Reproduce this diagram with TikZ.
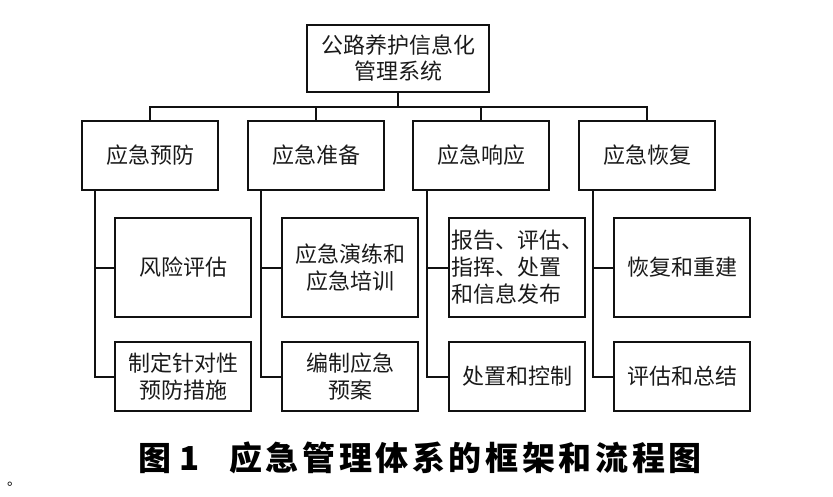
\documentclass[tikz,border=0pt]{standalone}
\usepackage{fontspec}
\usepackage{xcolor}
\usetikzlibrary{positioning}
\setmainfont{Noto Sans CJK SC}
\definecolor{boxstroke}{HTML}{111111}
\definecolor{txt}{HTML}{1A1A1A}

\begin{document}
\begin{tikzpicture}[
  x=1pt, y=1pt,
  font=\fontsize{22}{26}\selectfont,
  rootbox/.style={
    draw=boxstroke,
    line width=2pt,
    outer sep=0pt,
    minimum width=182pt,
    minimum height=67pt,
    align=center,
    text=txt
  },
  phasebox/.style={
    draw=boxstroke,
    line width=2pt,
    outer sep=0pt,
    minimum width=136pt,
    minimum height=69pt,
    align=center,
    text=txt
  },
  taskbox/.style={phasebox, minimum height=99pt, font=\fontsize{22}{27}\selectfont},
  subbox/.style={phasebox, font=\fontsize{22}{27}\selectfont},
  link/.style={draw=boxstroke, line width=2pt}
]
  \useasboundingbox (0,0) rectangle (833,-496);

  % Root box
  \node[rootbox] (root) at (398,-58.5) {公路养护信息化\\管理系统};

  % Four phases
  \node[phasebox] (prev) at (150,-155.5) {应急预防};
  \node[phasebox, right=30pt of prev] (prep) {应急准备};
  \node[phasebox, right=29pt of prep] (resp) {应急响应};
  \node[phasebox, right=30pt of resp] (reco) {应急恢复};

  % Bus from root to phases
  \draw[link] (root.south) -- ++(0,-15) coordinate (bus);
  \draw[link] (prev.north) |- (bus) -| (reco.north);
  \draw[link] (prep.north) -- (prep.north |- bus);
  \draw[link] (resp.north) -- (resp.north |- bus);

  % Tasks under each phase
  \node[taskbox, anchor=north west] (risk) at ([xshift=33pt,yshift=-28pt]prev.south west) {风险评估};
  \node[subbox, below=25pt of risk] (meas) {制定针对性\\预防措施};

  \node[taskbox, anchor=north west] (drill) at ([xshift=34pt,yshift=-28pt]prep.south west) {应急演练和\\应急培训};
  \node[subbox, below=25pt of drill] (plan) {编制应急\\预案};

  \node[taskbox, anchor=north west, align=left, inner sep=2pt] (rept) at ([xshift=36pt,yshift=-28pt]resp.south west) {报告、评估、\\指挥、处置\\和信息发布};
  \node[subbox, below=25pt of rept] (ctrl) {处置和控制};

  \node[taskbox, anchor=north west] (rebd) at ([xshift=35pt,yshift=-28pt]reco.south west) {恢复和重建};
  \node[subbox, below=25pt of rebd] (summ) {评估和总结};

  % Trunk lines on the left of each column
  \coordinate (t1) at ([xshift=13pt]prev.south west);
  \coordinate (t2) at ([xshift=13pt]prep.south west);
  \coordinate (t3) at ([xshift=14pt]resp.south west);
  \coordinate (t4) at ([xshift=14pt]reco.south west);
  \draw[link] (t1) |- (meas.west);
  \draw[link] (t1 |- risk.west) -- (risk.west);
  \draw[link] (t2) |- (plan.west);
  \draw[link] (t2 |- drill.west) -- (drill.west);
  \draw[link] (t3) |- (ctrl.west);
  \draw[link] (t3 |- rept.west) -- (rept.west);
  \draw[link] (t4) |- (summ.west);
  \draw[link] (t4 |- rebd.west) -- (rebd.west);

  % Caption
  \node[font=\fontsize{33}{36}\selectfont\bfseries\addfontfeatures{LetterSpace=11}] (cap) at (420,-458) {图\hspace{0.25em}1\hspace{0.9em}应急管理体系的框架和流程图};
  \node[font=\fontsize{14}{16}\selectfont, anchor=south west, inner sep=0pt] (dot) at (7,-487) {。};
\end{tikzpicture}
\end{document}
